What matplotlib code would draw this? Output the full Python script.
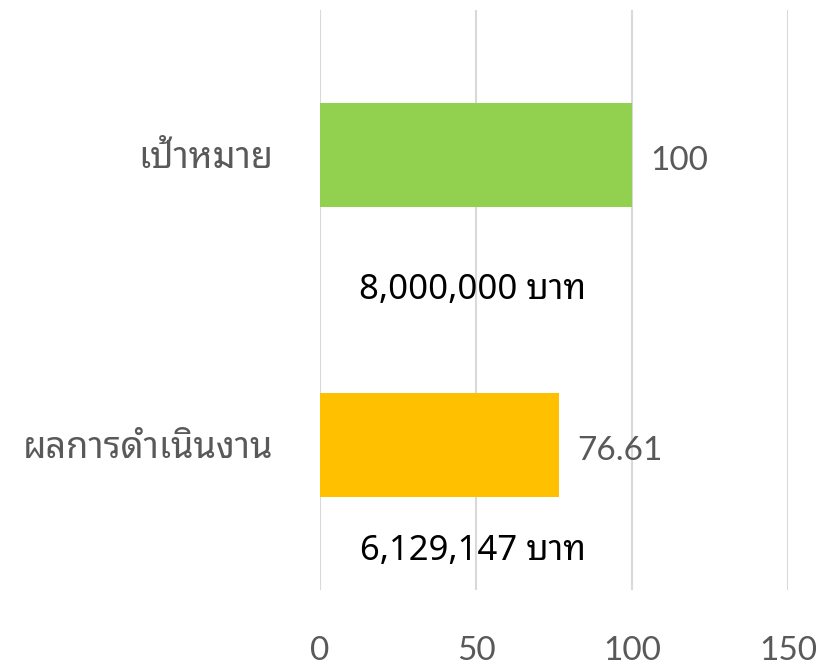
import matplotlib
matplotlib.use("Agg")
import matplotlib.pyplot as plt

# ข้อมูลเปรียบเทียบ เป้าหมาย กับ ผลการดำเนินงาน (ร้อยละ)
categories = ["ผลการดำเนินงาน", "เป้าหมาย"]
percent = [76.61, 100]
value_labels = ["76.61", "100"]
baht_labels = ["6,129,147 บาท", "8,000,000 บาท"]
colors = ["#ffc000", "#92d050"]
xticks = [0, 50, 100, 150]

num_font = ["Lato", "Noto Sans Thai Looped"]
thai_font = ["Noto Sans Thai Looped", "Noto Sans"]
baht_font = ["Noto Sans", "Noto Sans Thai Looped"]
gray = "#595959"

fig = plt.figure(figsize=(8.21, 6.68), dpi=100)
ax = fig.add_axes([320 / 821, 78 / 668, 468 / 821, 580 / 668])

y = list(range(len(categories)))
ax.barh(y, percent, height=0.357, color=colors, zorder=2)

ax.set_xlim(0, 150)
ax.set_ylim(-0.5, 1.5)
ax.set_xticks(xticks)
ax.set_xticklabels([str(t) for t in xticks], family=num_font, fontsize=24, color=gray)
ax.set_yticks(y)
ax.set_yticklabels(categories, family=thai_font, fontsize=26, color=gray)
ax.tick_params(axis="x", length=0, pad=33)
ax.tick_params(axis="y", length=0, pad=34)
ax.grid(axis="x", color="#d9d9d9", linewidth=1.5, zorder=0)
for s in ax.spines.values():
    s.set_visible(False)

# ค่าร้อยละท้ายแท่ง
for yi, v, lab in zip(y, percent, value_labels):
    ax.annotate(lab, (v, yi), xytext=(13, -4), textcoords="offset points",
                va="center", ha="left", family=num_font, fontsize=24, color=gray)

# จำนวนเงินใต้แท่ง
baht_y = [-0.365, 0.536]
for by, lab in zip(baht_y, baht_labels):
    ax.text(49, by, lab, ha="center", va="center", fontweight="medium",
            family=baht_font, fontsize=25, color="black")

fig.savefig("out.png", dpi=100)
